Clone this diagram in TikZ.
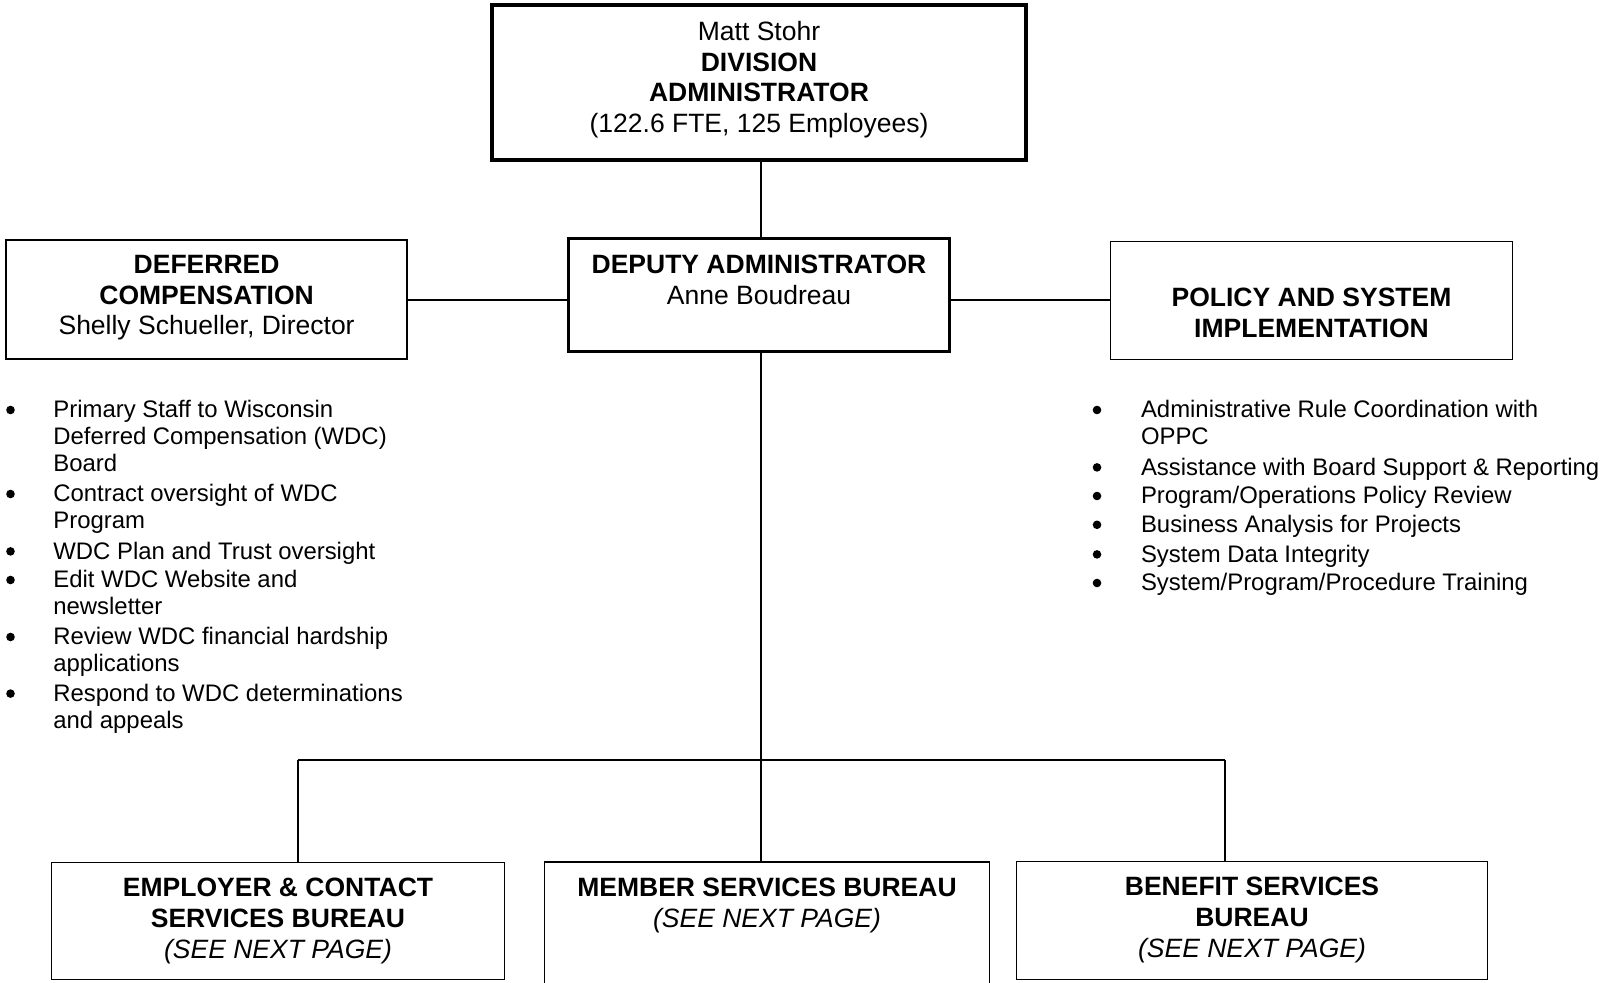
\documentclass[tikz,border=0pt]{standalone}
\usepackage{fontspec}
\setmainfont{Liberation Sans}
\tikzset{
  boxthin/.style={draw, line width=0.8pt, inner sep=0pt},
  boxthick/.style={draw, line width=2pt, inner sep=0pt},
  boxmid/.style={draw, line width=1.5pt, inner sep=0pt},
  link/.style={line width=1pt},
  btxt/.style={font=\fontsize{13.25}{15.3}\selectfont, align=center, inner sep=0pt, anchor=north},
  ltxt/.style={font=\fontsize{11.95}{13.5}\selectfont, align=left, inner sep=0pt, anchor=north west},
  dot/.style={circle, fill=black, inner sep=0pt, minimum size=4.3pt},
}
\begin{document}
\begin{tikzpicture}[x=0.5pt,y=-0.5pt]
\useasboundingbox (0,0) rectangle (1604,983);
\clip (0,0) rectangle (1604,983);
\fill[white] (0,0) rectangle (1604,983);

% boxes
\node[boxthick, minimum width=267pt, minimum height=77.5pt] (top) at (759,82.5) {};
\node[boxmid, minimum width=190.5pt, minimum height=56.5pt] (dep) at (759,295) {};
\node[boxthin, minimum width=200.5pt, minimum height=59.75pt] (def) at (206.5,299.5) {};
\node[boxthin, minimum width=201pt, minimum height=59pt] (pol) at (1311.5,300.5) {};
\node[boxthin, minimum width=226.5pt, minimum height=58.5pt] (emp) at (278,921) {};
\node[boxthin, minimum width=222.5pt, minimum height=69pt] (mem) at (767,931) {};
\node[boxthin, minimum width=235.5pt, minimum height=59pt] (ben) at (1252,920.5) {};

% box texts
\node[btxt] (toptxt) at (759,21) {Matt Stohr\\\textbf{DIVISION}\\\textbf{ADMINISTRATOR}\\(122.6 FTE, 125 Employees)};
\node[btxt] (deptxt) at (759,255) {\textbf{DEPUTY ADMINISTRATOR}\\Anne Boudreau};
\node[btxt] (deftxt) at (206.6,255) {\textbf{DEFERRED}\\\textbf{COMPENSATION}\\Shelly Schueller, Director};
\node[btxt] (poltxt) at (1311.5,288) {\textbf{POLICY AND SYSTEM}\\\textbf{IMPLEMENTATION}};
\node[btxt] (emptxt) at (278,878) {\textbf{EMPLOYER \& CONTACT}\\\textbf{SERVICES BUREAU}\\\textit{(SEE NEXT PAGE)}};
\node[btxt] (memtxt) at (767,878) {\textbf{MEMBER SERVICES BUREAU}\\\textit{(SEE NEXT PAGE)}};
\node[btxt] (bentxt) at (1252,877) {\textbf{BENEFIT SERVICES}\\\textbf{BUREAU}\\\textit{(SEE NEXT PAGE)}};

% connectors
\coordinate (spine) at (761,0);
\coordinate (hrow) at (0,300);
\coordinate (busL) at (298,760);
\coordinate (busR) at (1225,760);
\draw[link] (top.south -| spine) -- (dep.north -| spine);
\draw[link] (def.east |- hrow) -- (dep.west |- hrow);
\draw[link] (dep.east |- hrow) -- (pol.west |- hrow);
\draw[link] (dep.south -| spine) -- (mem.north -| spine);
\draw[link] (busL) -- (busR);
\draw[link] (busL) -- (busL |- emp.north);
\draw[link] (busR) -- (busR |- ben.north);

% left bullet list
\node[dot] (lb1) at (10.5,410) {};
\node[ltxt] (lt1) at (53,400.1) {Primary Staff to Wisconsin\\Deferred Compensation (WDC)\\Board};
\node[dot] (lb2) at (10.5,494) {};
\node[ltxt] (lt2) at (53,484.1) {Contract oversight of WDC\\Program};
\node[dot] (lb3) at (10.5,551.4) {};
\node[ltxt] (lt3) at (53,541.5) {WDC Plan and Trust oversight};
\node[dot] (lb4) at (10.5,580) {};
\node[ltxt] (lt4) at (53,570.1) {Edit WDC Website and\\newsletter};
\node[dot] (lb5) at (10.5,637) {};
\node[ltxt] (lt5) at (53,627.1) {Review WDC financial hardship\\applications};
\node[dot] (lb6) at (10.5,693.6) {};
\node[ltxt] (lt6) at (53,683.7) {Respond to WDC determinations\\and appeals};

% right bullet list
\node[dot] (rb1) at (1097,410) {};
\node[ltxt] (rt1) at (1140.6,400.1) {Administrative Rule Coordination with\\OPPC};
\node[dot] (rb2) at (1097,467.4) {};
\node[ltxt] (rt2) at (1140.6,457.5) {Assistance with Board Support \& Reporting};
\node[dot] (rb3) at (1097,496) {};
\node[ltxt] (rt3) at (1140.6,486.1) {Program/Operations Policy Review};
\node[dot] (rb4) at (1097,524.8) {};
\node[ltxt] (rt4) at (1140.6,514.9) {Business Analysis for Projects};
\node[dot] (rb5) at (1097,554.4) {};
\node[ltxt] (rt5) at (1140.6,544.5) {System Data Integrity};
\node[dot] (rb6) at (1097,583) {};
\node[ltxt] (rt6) at (1140.6,573.1) {System/Program/Procedure Training};
\end{tikzpicture}
\end{document}
